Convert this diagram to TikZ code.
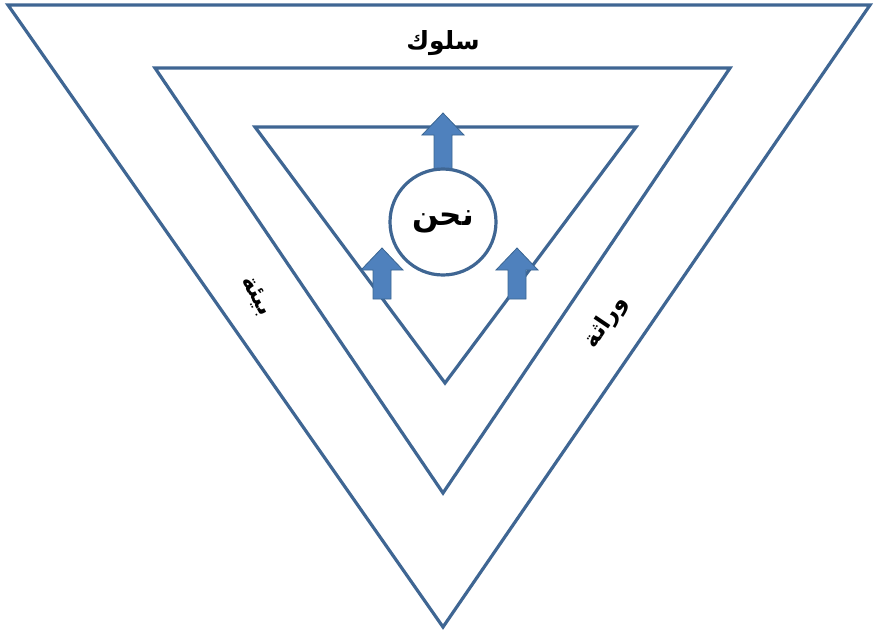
\documentclass[tikz,border=0pt]{standalone}
\usepackage{fontspec}
\newfontfamily\arabicfont[Script=Arabic]{DejaVu Sans}
\TeXXeTstate=1
\definecolor{triline}{HTML}{3F6693}
\definecolor{arrfill}{HTML}{4F81BD}
\definecolor{arredge}{HTML}{3A6591}
\begin{document}
\begin{tikzpicture}[x=1pt,y=-1pt,
  tri/.style={draw=triline,line width=3.2pt,line join=miter},
  blockarrow/.style={fill=arrfill,draw=arredge,line width=0.8pt},
  lbl/.style={font=\arabicfont\bfseries, text=black, inner sep=0pt}]
\useasboundingbox (0,0) rectangle (875,633);
% triangles
\coordinate (o1) at (8,5); \coordinate (o2) at (870,5); \coordinate (o3) at (443,627);
\coordinate (m1) at (155,68); \coordinate (m2) at (730,68); \coordinate (m3) at (443,493);
\coordinate (i1) at (255,127); \coordinate (i2) at (636,127); \coordinate (i3) at (445,383);
\draw[tri] (o1) -- (o2) -- (o3) -- cycle;
\draw[tri] (m1) -- (m2) -- (m3) -- cycle;
\draw[tri] (i1) -- (i2) -- (i3) -- cycle;
% arrows
\def\blockarrowat#1#2#3{% x, tip y, bottom y
  \path[blockarrow] (#1-9,#3) -- (#1-9,#2+22) -- (#1-21,#2+22) -- (#1,#2) -- (#1+21,#2+22) -- (#1+9,#2+22) -- (#1+9,#3) -- cycle;}
\blockarrowat{443}{113}{172}
\blockarrowat{382}{248}{299}
\blockarrowat{517}{248}{299}
% circle
\node[circle, draw=triline, fill=white, line width=3.2pt, minimum size=106pt, inner sep=0pt] (we) at (443,222) {};
\node[lbl, font=\arabicfont\bfseries\fontsize{31}{36}\selectfont] (wet) at (we.center) {\beginR نحن\endR};
\node[lbl, font=\arabicfont\bfseries\fontsize{25}{30}\selectfont] (beh) at (443,43) {\beginR سلوك\endR};
\node[lbl, font=\arabicfont\bfseries\fontsize{23}{27}\selectfont, rotate=-62] (env) at (256,296) {\beginR بيئة\endR};
\node[lbl, font=\arabicfont\bfseries\fontsize{23}{27}\selectfont, rotate=56] (her) at (606,322) {\beginR وراثة\endR};
\end{tikzpicture}
\end{document}
